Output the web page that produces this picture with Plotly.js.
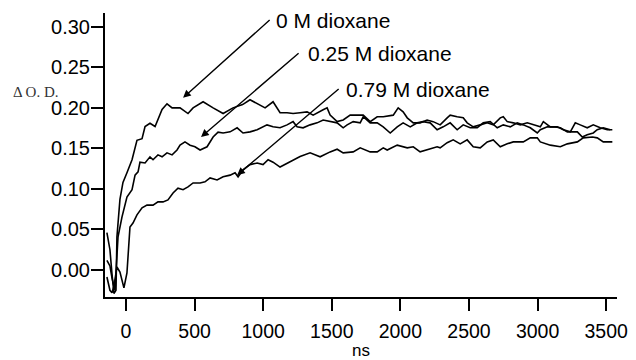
<!DOCTYPE html>
<html>
<head>
<meta charset="utf-8">
<script src="https://cdn.plot.ly/plotly-3.0.1.min.js"></script>
<style>html,body{margin:0;padding:0;background:#fff;}#chart{width:636px;height:360px;}</style>
</head>
<body>
<div id="chart"></div>
<script>
// ---- data (time in ns, ΔO.D.) ----
const x0M = [-139,-117,-102,-88,-73,-66,-44,-22,7,44,80,117,139,175,212,263,299,336,394,452,489,562,635,708,780,850,904,977,1014,1072,1101,1123,1174,1218,1269,1320,1364,1393,1437,1466,1488,1539,1583,1634,1707,1729,1780,1831,1875,1948,1984,2020,2050,2094,2144,2195,2239,2290,2341,2363,2414,2458,2487,2531,2582,2633,2677,2728,2750,2779,2823,2874,2925,2969,3020,3042,3093,3144,3188,3239,3275,3311,3362,3406,3457,3508,3545];
const y0M = [0.046,0.025,-0.005,-0.029,-0.025,0.041,0.087,0.108,0.120,0.136,0.160,0.162,0.177,0.181,0.177,0.198,0.205,0.200,0.200,0.193,0.200,0.2075,0.200,0.193,0.200,0.204,0.210,0.203,0.200,0.2075,0.200,0.194,0.194,0.193,0.194,0.195,0.191,0.194,0.1976,0.200,0.191,0.183,0.185,0.191,0.191,0.191,0.183,0.189,0.189,0.191,0.200,0.195,0.1877,0.1815,0.1815,0.185,0.183,0.179,0.1877,0.191,0.189,0.1877,0.1815,0.1766,0.179,0.1815,0.179,0.1877,0.189,0.183,0.1815,0.179,0.1815,0.179,0.1766,0.183,0.1766,0.1766,0.173,0.1704,0.1815,0.179,0.1754,0.179,0.1754,0.173,0.173];

const x025M = [-139,-117,-102,-80,-58,-29,7,44,66,88,102,139,175,197,233,263,299,336,372,394,430,467,503,540,591,635,671,708,759,810,853,904,956,999,1028,1072,1123,1174,1218,1247,1291,1342,1393,1437,1488,1539,1583,1612,1656,1707,1729,1780,1831,1875,1926,1977,2020,2072,2123,2166,2217,2268,2312,2363,2414,2458,2509,2560,2604,2655,2706,2750,2801,2852,2896,2947,2998,3020,3071,3115,3166,3217,3290,3326,3362,3406,3435,3479,3530];
const y025M = [0.012,0.005,-0.010,-0.025,0.041,0.0655,0.090,0.099,0.117,0.121,0.133,0.132,0.1396,0.136,0.142,0.1396,0.1445,0.142,0.148,0.154,0.158,0.154,0.152,0.148,0.152,0.164,0.170,0.169,0.1704,0.1754,0.169,0.1704,0.173,0.1766,0.179,0.1766,0.1754,0.179,0.183,0.1766,0.1754,0.179,0.1815,0.185,0.183,0.1815,0.1754,0.179,0.183,0.1815,0.189,0.1815,0.1815,0.1766,0.169,0.1766,0.1815,0.1766,0.1815,0.183,0.1815,0.173,0.1766,0.1815,0.173,0.179,0.1754,0.1754,0.1815,0.183,0.1754,0.179,0.1766,0.1815,0.179,0.1754,0.169,0.173,0.1766,0.1766,0.1754,0.1704,0.1704,0.164,0.1667,0.169,0.173,0.1754,0.173];

const x079M = [-139,-117,-102,-88,-66,-44,-15,7,29,51,80,117,153,197,233,270,306,343,379,416,452,489,540,576,613,664,708,759,795,817,853,904,956,999,1036,1072,1123,1196,1269,1342,1415,1488,1539,1583,1656,1707,1780,1831,1875,1904,1948,1977,2050,2094,2144,2195,2268,2290,2341,2385,2436,2487,2531,2582,2633,2677,2728,2779,2823,2896,2947,2998,3020,3093,3166,3217,3290,3333,3400,3435,3479,3545];
const y079M = [-0.0086,-0.025,-0.028,-0.020,0.0037,-0.0025,-0.022,-0.0037,0.053,0.058,0.068,0.0766,0.080,0.080,0.084,0.084,0.0865,0.095,0.101,0.099,0.1025,0.1074,0.1074,0.1087,0.1136,0.111,0.115,0.117,0.120,0.115,0.1235,0.130,0.132,0.130,0.136,0.133,0.127,0.133,0.140,0.1445,0.1396,0.1457,0.149,0.1445,0.1457,0.1507,0.1457,0.1457,0.1507,0.148,0.152,0.154,0.1507,0.152,0.1457,0.148,0.152,0.1507,0.157,0.1605,0.1556,0.1605,0.152,0.1507,0.158,0.1605,0.152,0.1556,0.158,0.158,0.163,0.163,0.158,0.154,0.152,0.1556,0.158,0.163,0.164,0.163,0.158,0.158];

const seriesLabels = ["0 M dioxane", "0.25 M dioxane", "0.79 M dioxane"];
const xTicks = [0,500,1000,1500,2000,2500,3000,3500];
const yTicks = [0.00,0.05,0.10,0.15,0.20,0.25,0.30];
// arrow heads / tails (data coords)
const arrowHeadX = [416, 547, 810];
const arrowHeadY = [0.2124, 0.164, 0.117];
const arrowTailX = [1058, 1269, 1561];
const arrowTailY = [0.310, 0.269, 0.2248];

const lineStyle = {color: '#000', width: 1.6};
const traces = [
  {x: x0M, y: y0M, name: seriesLabels[0], mode: 'lines', line: lineStyle},
  {x: x025M, y: y025M, name: seriesLabels[1], mode: 'lines', line: lineStyle},
  {x: x079M, y: y079M, name: seriesLabels[2], mode: 'lines', line: lineStyle}
];

const fam = 'Liberation Sans, Arial, sans-serif';
const annotations = [];
const labelPos = [[0.331, 0.972], [0.393, 0.856], [0.467, 0.732]];
for (let i = 0; i < 3; i++) {
  annotations.push({
    xref: 'x', yref: 'y', axref: 'x', ayref: 'y',
    x: arrowHeadX[i], y: arrowHeadY[i], ax: arrowTailX[i], ay: arrowTailY[i],
    text: '', showarrow: true, arrowhead: 2, arrowsize: 1.1, arrowwidth: 1.4, arrowcolor: '#000'
  });
  annotations.push({
    xref: 'paper', yref: 'paper', x: labelPos[i][0], y: labelPos[i][1],
    xanchor: 'left', yanchor: 'middle', showarrow: false,
    text: seriesLabels[i], font: {family: fam, size: 21, color: '#000'}
  });
}
annotations.push({
  xref: 'paper', yref: 'paper', x: -0.1348, y: 0.722, xanchor: 'center', yanchor: 'middle',
  showarrow: false, text: 'Δ O. D.',
  font: {family: 'Liberation Serif, Times New Roman, serif', size: 15, color: '#333'}
});

const layout = {
  width: 636, height: 360,
  margin: {l: 105, r: 19, t: 13, b: 63},
  paper_bgcolor: '#fff', plot_bgcolor: '#fff',
  showlegend: false,
  xaxis: {
    range: [-153, 3579], tickvals: xTicks, ticktext: xTicks.map(String),
    ticks: 'outside', ticklen: 12, tickwidth: 2, tickcolor: '#000',
    showline: true, linewidth: 2, linecolor: '#000',
    showgrid: false, zeroline: false, tickfont: {family: fam, size: 19.5, color: '#000'},
    ticklabelstandoff: 4,
    title: {text: 'ns', font: {family: fam, size: 17, color: '#000'}, standoff: 2}
  },
  yaxis: {
    range: [-0.0333, 0.317], tickvals: yTicks, ticktext: yTicks.map(v => v.toFixed(2)),
    ticks: 'outside', ticklen: 12, tickwidth: 2, tickcolor: '#000',
    showline: true, linewidth: 2, linecolor: '#000',
    showgrid: false, zeroline: false, tickfont: {family: fam, size: 20, color: '#000'},
    ticklabelstandoff: -3
  },
  annotations: annotations
};

Plotly.newPlot('chart', traces, layout, {staticPlot: true, displayModeBar: false});
</script>
</body>
</html>
